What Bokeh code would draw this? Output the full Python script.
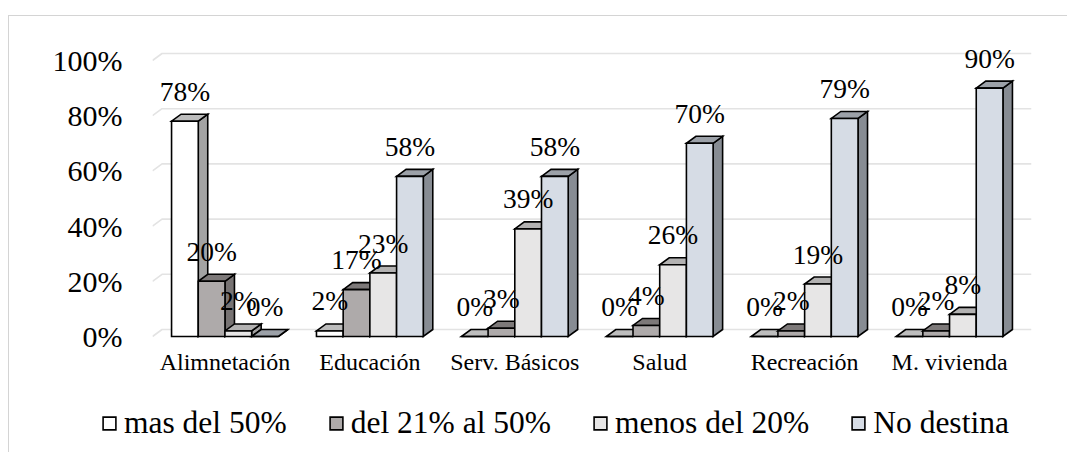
from bokeh.plotting import figure
from bokeh.layouts import column
from bokeh.models import Range1d, FixedTicker, PrintfTickFormatter, Legend, LegendItem
from bokeh.core.properties import value
from bokeh.embed import file_html
from bokeh.resources import INLINE

# ---------------- data ----------------
categories = ["Alimnetación", "Educación", "Serv. Básicos", "Salud", "Recreación", "M. vivienda"]
series_names = ["mas del 50%", "del 21% al 50%", "menos del 20%", "No destina"]
mas_50 = [78, 2, 0, 0, 0, 0]
del_21_50 = [20, 17, 3, 4, 2, 2]
menos_20 = [2, 23, 39, 26, 19, 8]
no_destina = [0, 58, 58, 70, 79, 90]
y_ticks = [0, 20, 40, 60, 80, 100]

series_values = [mas_50, del_21_50, menos_20, no_destina]

# ---------------- style ----------------
front_colors = ["#ffffff", "#aeaaaa", "#e7e6e6", "#d6dce5"]
top_colors = ["#bdbdbd", "#7d7979", "#b3b2b2", "#9ca1a8"]
side_colors = ["#a3a3a3", "#777373", "#a09f9f", "#878c93"]
FONT = "Liberation Serif"

UNIT_PX = 144.9
PX_PER_PCT = 2.76
BAR_W = 26.7 / UNIT_PX
DX = 9.5 / UNIT_PX
DY = 7.0 / PX_PER_PCT

p = figure(width=1058, height=376,
           x_range=Range1d(-0.5, 5.5 + DX),
           y_range=Range1d(-4 / PX_PER_PCT, 296 / PX_PER_PCT),
           output_backend="svg", toolbar_location=None,
           min_border_left=143, min_border_right=36,
           min_border_top=24, min_border_bottom=52)
p.frame_align = False
p.xgrid.visible = False
p.ygrid.visible = False
p.outline_line_color = None

# back-wall gridlines with slanted side-wall part
gx, gy = [], []
for t in y_ticks:
    gx.append([-0.5, -0.5 + DX, 5.5 + DX])
    gy.append([t, t + DY, t + DY])
p.multi_line(gx, gy, line_color="#e3e3e3", line_width=1.6)

# bars (3D look: side faces, top faces, then front faces)
side_xs, side_ys, side_c = [], [], []
top_xs, top_ys, top_c = [], [], []
fronts = []
lab_x, lab_y, lab_t = [], [], []
for si, vals in enumerate(series_values):
    lefts, rights, tops_ = [], [], []
    for gi, v in enumerate(vals):
        x0 = gi - 2 * BAR_W + si * BAR_W
        x1 = x0 + BAR_W
        side_xs.append([x1, x1, x1 + DX, x1 + DX])
        side_ys.append([0, v, v + DY, DY])
        side_c.append(side_colors[si])
        top_xs.append([x0, x1, x1 + DX, x0 + DX])
        top_ys.append([v, v, v + DY, v + DY])
        top_c.append(top_colors[si])
        lefts.append(x0)
        rights.append(x1)
        tops_.append(v)
        lab_x.append((x0 + x1) / 2)
        lab_y.append(v)
        lab_t.append(f"{v}%")
    fronts.append((lefts, rights, tops_))

p.patches(side_xs, side_ys, fill_color=side_c, line_color="black", line_width=1.6, line_join="miter")
p.patches(top_xs, top_ys, fill_color=top_c, line_color="black", line_width=1.6, line_join="miter")

for si, (lefts, rights, tops_) in enumerate(fronts):
    p.quad(left=lefts, right=rights, bottom=[0] * len(lefts), top=tops_,
           fill_color=front_colors[si], line_color="black", line_width=1.6,
           line_join="miter")

# data labels
p.text(x=lab_x, y=lab_y, text=lab_t, text_font=value(FONT), text_font_size="27.5px",
       text_align="center", text_baseline="alphabetic", y_offset=-30, text_color="black")

# axes
p.yaxis.ticker = FixedTicker(ticks=y_ticks)
p.yaxis.formatter = PrintfTickFormatter(format="%d%%")
p.yaxis.axis_line_color = None
p.yaxis.major_tick_line_color = None
p.yaxis.minor_tick_line_color = None
p.yaxis.major_label_standoff = 24
p.yaxis.major_label_text_font = FONT
p.yaxis.major_label_text_font_size = "30px"
p.yaxis.major_label_text_color = "black"

p.xaxis.ticker = FixedTicker(ticks=list(range(len(categories))))
p.xaxis.major_label_overrides = {i: c for i, c in enumerate(categories)}
p.xaxis.axis_line_color = None
p.xaxis.major_tick_line_color = None
p.xaxis.minor_tick_line_color = None
p.xaxis.major_label_standoff = 2
p.xaxis.major_label_text_font = FONT
p.xaxis.major_label_text_font_size = "24px"
p.xaxis.major_label_text_color = "black"

# legend strip (its swatches come from off-screen quads styled like the bars)
p2 = figure(width=1058, height=60, x_range=Range1d(0, 1), y_range=Range1d(0, 1),
            x_axis_type=None, y_axis_type=None,
            output_backend="svg", toolbar_location=None,
            min_border_left=0, min_border_right=0, min_border_top=0, min_border_bottom=0)
p2.frame_align = False
p2.xgrid.visible = False
p2.ygrid.visible = False
p2.outline_line_color = None
leg_renderers = []
for si in range(len(series_names)):
    leg_renderers.append(p2.quad(left=[-10], right=[-9], bottom=[-10], top=[-9],
                                 fill_color=front_colors[si], line_color="black",
                                 line_width=1.6, line_join="miter"))
legend = Legend(items=[LegendItem(label=n, renderers=[leg_renderers[i]])
                       for i, n in enumerate(series_names)],
                orientation="horizontal", location=(92, 11),
                padding=0, margin=0, spacing=41, label_standoff=7,
                glyph_width=16, glyph_height=16,
                label_text_font=FONT, label_text_font_size="31.5px",
                label_text_color="black",
                background_fill_alpha=0, border_line_alpha=0)
p2.add_layout(legend, "center")

root = column(p, p2, spacing=0,
              styles={"margin-left": "8px", "margin-top": "15px",
                      "border-left": "1px solid #d4d4d4",
                      "border-top": "1px solid #d4d4d4"})

open("out.html", "w").write(file_html(root, INLINE))
